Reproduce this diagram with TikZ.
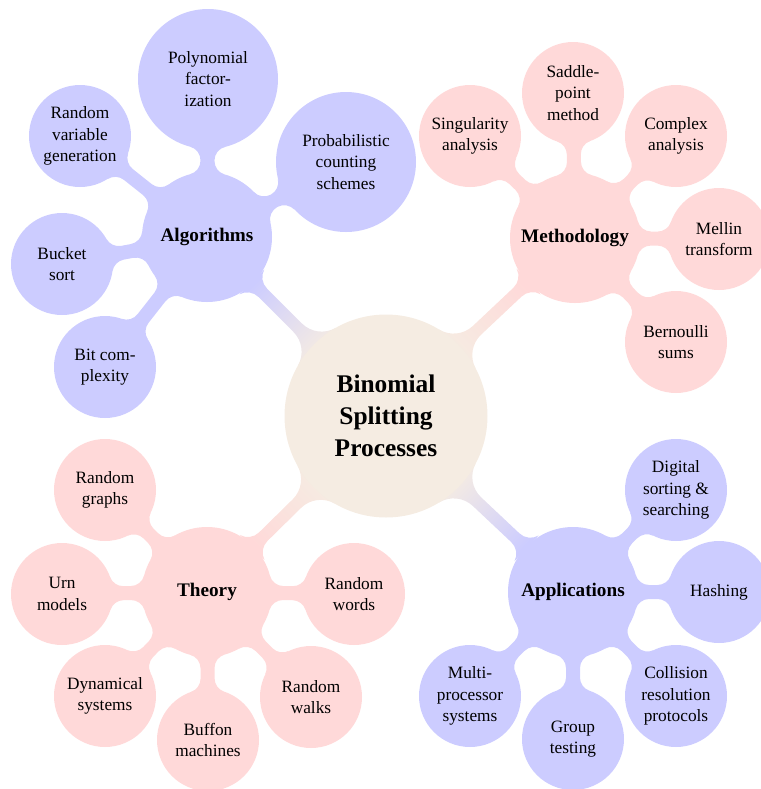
\documentclass[tikz,border=0pt]{standalone}
\usepackage{fontspec}
\setmainfont{Liberation Serif}
\usetikzlibrary{backgrounds}
\colorlet{rootc}{brown!15}
\colorlet{bluec}{blue!20}
\colorlet{redc}{red!15}
\tikzset{
  bubble/.style={circle, inner sep=0pt, align=center},
  rootbubble/.style={bubble, fill=rootc, minimum size=101.5pt, font=\fontsize{12.7}{15.9}\selectfont\bfseries},
  mainbubble/.style={bubble, minimum size=65pt, font=\fontsize{9.6}{12}\selectfont\bfseries},
  leafbubble/.style={bubble, minimum size=51pt, font=\fontsize{8.65}{10.8}\selectfont},
  bigleaf/.style={leafbubble, minimum size=70pt},
  blueb/.style={fill=bluec},
  redb/.style={fill=redc}
}
\newcommand\pxu{0.5}
\newcommand\lpt[3]{%
  \pgfmathsetmacro\lpx{\lax+(#1)*\lc-(#2)*\ls}%
  \pgfmathsetmacro\lpy{\lay+(#1)*\ls+(#2)*\lc}%
  \coordinate (#3) at (\lpx pt,\lpy pt);}
% #1 from node, #2 to node, #3 ra, #4 rb, #5 half width, #6 fillet a, #7 fillet b (all px), #8 fill options
\newcommand\linkfill[8]{%
  \pgfpointanchor{#1}{center}\pgfgetlastxy{\lax}{\lay}%
  \pgfpointanchor{#2}{center}\pgfgetlastxy{\lbx}{\lby}%
  \pgfmathsetmacro\lang{atan2(\lby-\lay,\lbx-\lax)}%
  \pgfmathsetmacro\llen{veclen(\lbx-\lax,\lby-\lay)}%
  \pgfmathsetmacro\lc{cos(\lang)}%
  \pgfmathsetmacro\ls{sin(\lang)}%
  \pgfmathsetmacro\lra{#3*\pxu}%
  \pgfmathsetmacro\lrb{#4*\pxu}%
  \pgfmathsetmacro\lw{#5*\pxu}%
  \pgfmathsetmacro\lfa{#6*\pxu}%
  \pgfmathsetmacro\lfb{#7*\pxu}%
  \pgfmathsetmacro\lta{sqrt((\lra+\lfa)^2-(\lw+\lfa)^2)}%
  \pgfmathsetmacro\ltb{sqrt((\lrb+\lfb)^2-(\lw+\lfb)^2)}%
  \pgfmathsetmacro\lal{atan((\lw+\lfa)/\lta)}%
  \pgfmathsetmacro\lbe{atan((\lw+\lfb)/\ltb)}%
  \pgfmathsetmacro\lka{\lra/(\lra+\lfa)}%
  \pgfmathsetmacro\lkb{\lrb/(\lrb+\lfb)}%
  \lpt{\lta*\lka}{(\lw+\lfa)*\lka}{lkA1}%
  \lpt{\llen-\ltb}{\lw}{lkB1}%
  \lpt{\llen-\ltb*\lkb}{-(\lw+\lfb)*\lkb}{lkB2}%
  \lpt{\lta}{-\lw}{lkA2}%
  \pgfmathsetmacro\lsa{180+\lal+\lang}\pgfmathsetmacro\lea{270+\lang}%
  \pgfmathsetmacro\lsb{270+\lang}\pgfmathsetmacro\leb{360-\lbe+\lang}%
  \pgfmathsetmacro\lsc{\lbe+\lang}\pgfmathsetmacro\lec{90+\lang}%
  \pgfmathsetmacro\lsd{90+\lang}\pgfmathsetmacro\led{180-\lal+\lang}%
  \pgfmathsetmacro\lshade{\lang+90}%
  \path[#8] (lkA1) arc[start angle=\lsa, end angle=\lea, radius=\lfa pt] -- (lkB1)
     arc[start angle=\lsb, end angle=\leb, radius=\lfb pt] -- (lkB2)
     arc[start angle=\lsc, end angle=\lec, radius=\lfb pt] -- (lkA2)
     arc[start angle=\lsd, end angle=\led, radius=\lfa pt] -- cycle;
}
\newcommand\rootlink[2]{\linkfill{root}{#1}{101.5}{65}{6}{28}{16}{left color=rootc, right color=#2, shading angle=\lshade}}
\newcommand\leaflink[4]{\linkfill{#1}{#2}{65}{#3}{7}{14}{14}{fill=#4}}
\begin{document}
\begin{tikzpicture}[x=0.5pt, y=-0.5pt]
  \useasboundingbox (0,0) rectangle (761,789);
  % root and main concepts
  \node[rootbubble] (root) at (386,416) {Binomial\\Splitting\\Processes};
  \node[mainbubble, blueb] (alg) at (207,237) {Algorithms};
  \node[mainbubble, redb] (meth) at (575,238) {Methodology};
  \node[mainbubble, redb] (theo) at (207,592) {Theory};
  \node[mainbubble, blueb] (app) at (573,592) {Applications};
  % algorithms
  \node[bigleaf, blueb] (poly) at (208,79) {Polynomial\\factor-\\ization};
  \node[bigleaf, blueb] (prob) at (346,162) {Probabilistic\\counting\\schemes};
  \node[leafbubble, blueb] (rvg) at (80,136) {Random\\variable\\generation};
  \node[leafbubble, blueb] (bucket) at (62,264) {Bucket\\sort};
  \node[leafbubble, blueb] (bit) at (105,367) {Bit com-\\plexity};
  % methodology
  \node[leafbubble, redb] (sing) at (470,136) {Singularity\\analysis};
  \node[leafbubble, redb] (saddle) at (573,93) {Saddle-\\point\\method};
  \node[leafbubble, redb] (complex) at (676,136) {Complex\\analysis};
  \node[leafbubble, redb] (mellin) at (719,239) {Mellin\\transform};
  \node[leafbubble, redb] (bern) at (676,342) {Bernoulli\\sums};
  % theory
  \node[leafbubble, redb] (rgraphs) at (105,490) {Random\\graphs};
  \node[leafbubble, redb] (urn) at (62,594) {Urn\\models};
  \node[leafbubble, redb] (dyn) at (105,696) {Dynamical\\systems};
  \node[leafbubble, redb] (buffon) at (208,740) {Buffon\\machines};
  \node[leafbubble, redb] (rwalks) at (311,697) {Random\\walks};
  \node[leafbubble, redb] (rwords) at (354,594) {Random\\words};
  % applications
  \node[leafbubble, blueb] (digital) at (676,490) {Digital\\sorting \&\\searching};
  \node[leafbubble, blueb] (hashing) at (719,592) {Hashing};
  \node[leafbubble, blueb] (collision) at (676,696) {Collision\\resolution\\protocols};
  \node[leafbubble, blueb] (group) at (573,739) {Group\\testing};
  \node[leafbubble, blueb] (multi) at (470,696) {Multi-\\processor\\systems};
  \begin{scope}[on background layer]
    \rootlink{alg}{bluec}
    \rootlink{meth}{redc}
    \rootlink{theo}{redc}
    \rootlink{app}{bluec}
    \leaflink{alg}{poly}{70}{bluec}
    \leaflink{alg}{prob}{70}{bluec}
    \foreach \c in {rvg,bucket,bit} {\leaflink{alg}{\c}{51}{bluec}}
    \foreach \c in {sing,saddle,complex,mellin,bern} {\leaflink{meth}{\c}{51}{redc}}
    \foreach \c in {rgraphs,urn,dyn,buffon,rwalks,rwords} {\leaflink{theo}{\c}{51}{redc}}
    \foreach \c in {digital,hashing,collision,group,multi} {\leaflink{app}{\c}{51}{bluec}}
  \end{scope}
\end{tikzpicture}
\end{document}
